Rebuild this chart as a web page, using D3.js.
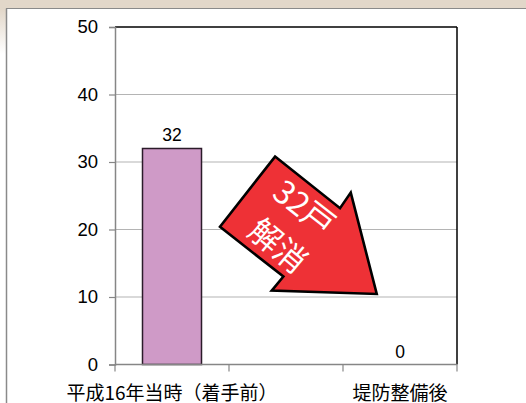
<!DOCTYPE html>
<html><head><meta charset="utf-8">
<script src="https://cdn.jsdelivr.net/npm/d3@7"></script>
<style>html,body{margin:0;padding:0;background:#fff;overflow:hidden}svg{display:block}</style>
</head><body>
<svg id="c" width="526" height="403"></svg>
<script>
const categories = ["平成16年当時（着手前）", "", "堤防整備後"];
const values = [32, null, 0];
const yTicks = [0, 10, 20, 30, 40, 50];
const arrowText = ["32戸", "解消"];

const svg = d3.select("#c");
const W = 526, H = 403;
const m = {left: 115, right: 457, top: 27, bottom: 364.5};

// frame background
const defs = svg.append("defs");
const lg = defs.append("linearGradient").attr("id","lg").attr("x1",0).attr("y1",0).attr("x2",0).attr("y2",1);
lg.append("stop").attr("offset",0).attr("stop-color","#e2d7c9");
lg.append("stop").attr("offset",1).attr("stop-color","#ffffff");
svg.append("rect").attr("x",0).attr("y",0).attr("width",W).attr("height",9).attr("fill","#e2d7c9");
svg.append("rect").attr("x",0).attr("y",9).attr("width",6).attr("height",45).attr("fill","url(#lg)");
svg.append("line").attr("x1",6).attr("x2",W).attr("y1",8.5).attr("y2",8.5).attr("stroke","#8a8a8a").attr("stroke-width",1.2);
svg.append("line").attr("x1",6.5).attr("x2",6.5).attr("y1",8.5).attr("y2",H).attr("stroke","#8a8a8a").attr("stroke-width",1.5);

const x = d3.scaleBand().domain(d3.range(categories.length)).range([m.left, m.right]).paddingInner(0).paddingOuter(0);
const y = d3.scaleLinear().domain([0, 50]).range([m.bottom, m.top]);

// gridlines
svg.append("g").selectAll("line").data(yTicks.filter(t => t > 0 && t < 50)).join("line")
  .attr("x1", m.left).attr("x2", m.right).attr("y1", d => y(d)).attr("y2", d => y(d))
  .attr("stroke", "#b4b4b4").attr("stroke-width", 1.2);

// top & right border
svg.append("line").attr("x1", m.left).attr("x2", m.right).attr("y1", y(50)).attr("y2", y(50)).attr("stroke", "#000").attr("stroke-width", 1.5);
svg.append("line").attr("x1", m.right).attr("x2", m.right).attr("y1", y(50)).attr("y2", m.bottom).attr("stroke", "#000").attr("stroke-width", 1.5);

// y axis
const yAxis = d3.axisLeft(y).tickValues(yTicks).tickSize(6).tickPadding(11).tickFormat(d3.format("d"));
const gy = svg.append("g").attr("transform", `translate(${m.left},0)`).call(yAxis);
gy.select(".domain").attr("stroke", "#868686").attr("stroke-width", 1.5);
gy.selectAll(".tick line").attr("stroke", "#868686").attr("stroke-width", 1.2);
gy.selectAll(".tick text").attr("font-family", "Liberation Sans, Arial, sans-serif").attr("font-size", 18.5).attr("fill", "#000");

// bars
const bw = 59;
svg.append("g").selectAll("rect").data(values.map((v,i)=>({v,i})).filter(d => d.v)).join("rect")
  .attr("x", d => x(d.i) + x.bandwidth()/2 - bw/2).attr("width", bw)
  .attr("y", d => y(d.v)).attr("height", d => y(0) - y(d.v))
  .attr("fill", "#cf9ac7").attr("stroke", "#2b1b29").attr("stroke-width", 1.5);

// value labels
svg.append("g").selectAll("text").data(values.map((v,i)=>({v,i})).filter(d => d.v !== null)).join("text")
  .attr("x", d => x(d.i) + x.bandwidth()/2)
  .attr("y", d => y(d.v) - (d.v === 0 ? 7 : 8))
  .attr("text-anchor", "middle")
  .attr("font-family", "Liberation Sans, Arial, sans-serif").attr("font-size", 17.5)
  .text(d => d.v);

// x axis
const gx = svg.append("g");
gx.append("line").attr("x1", m.left).attr("x2", m.right).attr("y1", m.bottom).attr("y2", m.bottom).attr("stroke", "#868686").attr("stroke-width", 1.5);
const bounds = d3.range(categories.length + 1).map(i => i < categories.length ? x(i) : m.right);
gx.selectAll(".tk").data(bounds).join("line").attr("class","tk")
  .attr("x1", d => d).attr("x2", d => d).attr("y1", m.bottom).attr("y2", m.bottom + 7)
  .attr("stroke", "#868686").attr("stroke-width", 1.2);
gx.selectAll("text").data(categories).join("text")
  .attr("x", (d,i) => x(i) + x.bandwidth()/2).attr("y", 399.5)
  .attr("text-anchor", "middle")
  .attr("font-family", "Noto Sans CJK JP, sans-serif").attr("font-size", 19)
  .text(d => d);

// arrow (category index / value space)
const ax = d3.scaleLinear().domain([0, 3]).range([m.left, m.right]);
const arrowShape = [[1.404,30.8],[1.974,23.16],[2.068,25.47],[2.296,10.45],[1.375,10.95],[1.477,13.03],[0.921,20.4]];
svg.append("polygon")
  .attr("points", arrowShape.map(p => [ax(p[0]), y(p[1])].join(",")).join(" "))
  .attr("fill", "#ee3136").attr("stroke", "#000").attr("stroke-width", 2.6).attr("stroke-linejoin", "miter");

const tg = svg.append("g").attr("font-family", "Noto Sans CJK JP, sans-serif").attr("font-size", 32).attr("fill", "#fff").attr("text-anchor", "middle");
tg.append("text").attr("transform", `translate(${ax(1.66)},${y(23.2)}) rotate(38)`).attr("dy", "0.36em").text(arrowText[0]);
tg.append("text").attr("transform", `translate(${ax(1.43)},${y(17.6)}) rotate(40)`).attr("dy", "0.36em").text(arrowText[1]);
</script>
</body></html>
